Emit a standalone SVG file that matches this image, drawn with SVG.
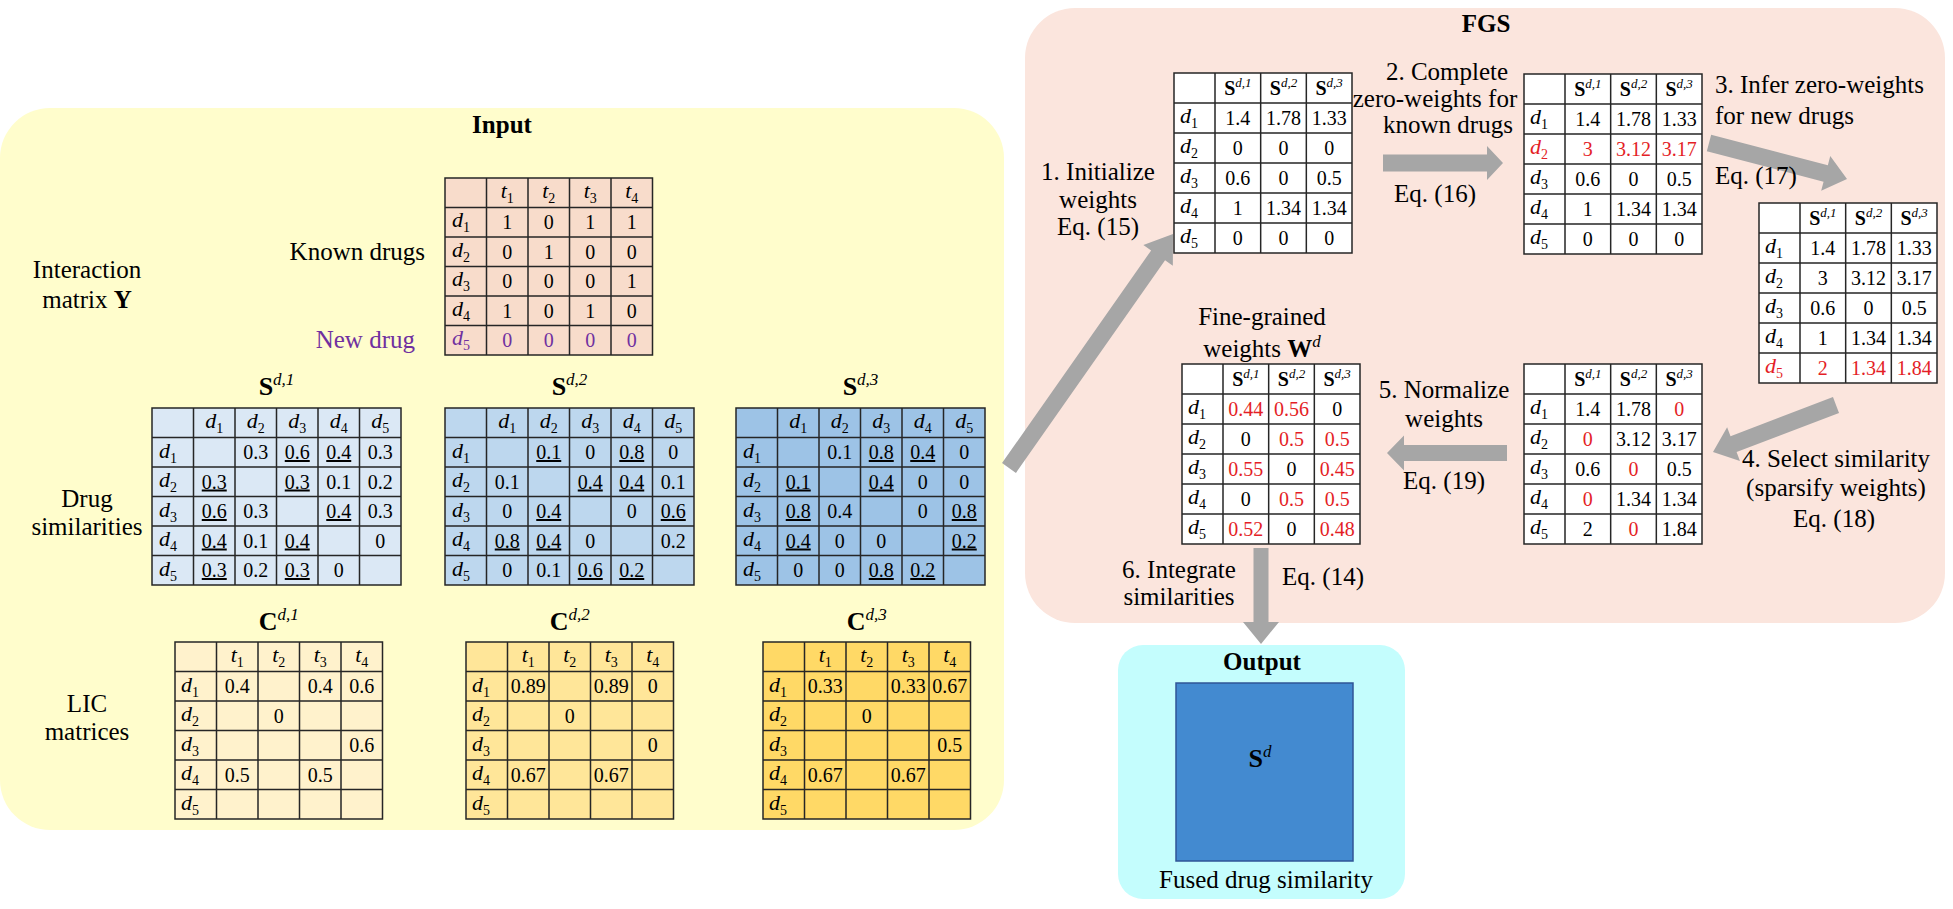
<svg xmlns="http://www.w3.org/2000/svg" width="1953" height="909" viewBox="0 0 1953 909">
<style>
text{font-family:"Liberation Serif","Times New Roman",serif;fill:#000}
.lbl{font-size:25px}
.ttl{font-size:25px;font-weight:bold;text-anchor:middle}
.c{font-size:20px;text-anchor:middle}
.u{text-decoration:underline}
.d{font-size:22px}
.d .i{font-style:italic}
.s{font-size:14px;font-style:normal}
.grid{fill:none;stroke:#262626;stroke-width:1.5}
.r{fill:#E41E26}
.p{fill:#7030A0}
.hS{font-size:20px;font-weight:bold;text-anchor:middle}
.sup{font-size:13px;font-style:italic;font-weight:normal}
.bigS{font-size:26px;font-weight:bold;text-anchor:middle}
.bsup{font-size:17px;font-style:italic;font-weight:normal}
.arr{fill:#A6A6A6}
.mid{text-anchor:middle}
.end{text-anchor:end}
</style>

<!-- panels -->
<g id="input-panel">
<rect x="0" y="108" width="1004" height="722" rx="50" fill="#FFFDCC"/>
<text class="ttl" x="502" y="133">Input</text>
<text class="lbl mid" x="87" y="278">Interaction</text>
<text class="lbl mid" x="87" y="308">matrix <tspan font-weight="bold">Y</tspan></text>
<text class="lbl end" x="425" y="260">Known drugs</text>
<text class="lbl end p" x="415" y="348">New drug</text>
<text class="lbl mid" x="87" y="507">Drug</text>
<text class="lbl mid" x="87" y="535">similarities</text>
<text class="lbl mid" x="87" y="712">LIC</text>
<text class="lbl mid" x="87" y="740">matrices</text>
</g>

<g id="fgs-panel">
<rect x="1025" y="8" width="920" height="615" rx="50" fill="#FBE5DD"/>
<text class="ttl" x="1486" y="32">FGS</text>
</g>

<!-- connectors -->
<g id="connectors">
<polygon class="arr" points="1015.96,472.88 1165.06,260.18 1172.84,265.63 1173,234 1143.36,244.97 1151.14,250.42 1002.04,463.12"/>
<polygon class="arr" points="1383,154.5 1487,154.5 1487,146 1503,163 1487,180 1487,171.5 1383,171.5"/>
<polygon class="arr" points="1706.85,151.23 1823.56,181.68 1821.17,190.87 1847,179 1830.25,156.03 1827.86,165.22 1711.15,134.77"/>
<polygon class="arr" points="1832.97,397.06 1730.52,436.21 1727.12,427.34 1713,452 1739.98,460.96 1736.58,452.09 1839.03,412.94"/>
<polygon class="arr" points="1507,445 1404,445 1404,435.5 1387,453 1404,470.5 1404,461 1507,461"/>
<polygon class="arr" points="1253.5,548 1253.5,622 1243,622 1261,644 1279,622 1268.5,622 1268.5,548"/>
</g>

<!-- step labels -->
<g id="step-labels">
<text class="lbl mid" x="1098" y="180">1. Initialize</text>
<text class="lbl mid" x="1098" y="208">weights</text>
<text class="lbl mid" x="1098" y="235">Eq. (15)</text>
<text class="lbl mid" x="1447" y="80">2. Complete</text>
<text class="lbl mid" x="1435" y="107">zero-weights for</text>
<text class="lbl mid" x="1448" y="133">known drugs</text>
<text class="lbl mid" x="1435" y="202">Eq. (16)</text>
<text class="lbl" x="1715" y="93">3. Infer zero-weights</text>
<text class="lbl" x="1715" y="124">for new drugs</text>
<text class="lbl" x="1715" y="184">Eq. (17)</text>
<text class="lbl mid" x="1836" y="467">4. Select similarity</text>
<text class="lbl mid" x="1836" y="496">(sparsify weights)</text>
<text class="lbl mid" x="1834" y="527">Eq. (18)</text>
<text class="lbl mid" x="1444" y="398">5. Normalize</text>
<text class="lbl mid" x="1444" y="427">weights</text>
<text class="lbl mid" x="1444" y="489">Eq. (19)</text>
<text class="lbl mid" x="1262" y="325">Fine-grained</text>
<text class="lbl mid" x="1262" y="357">weights <tspan font-weight="bold">W</tspan><tspan class="bsup" dy="-10">d</tspan></text>
<text class="lbl mid" x="1179" y="578">6. Integrate</text>
<text class="lbl mid" x="1179" y="605">similarities</text>
<text class="lbl mid" x="1323" y="585">Eq. (14)</text>
</g>

<!-- Interaction matrix Y -->
<g id="matrix-Y">
<rect x="445" y="178" width="207.5" height="177" fill="#F8DCCB"/>
<path class="grid" d="M445 178h207.5v177h-207.5z M486.5 178V355 M528 178V355 M569.5 178V355 M611 178V355 M445 207.5H652.5 M445 237H652.5 M445 266.5H652.5 M445 296H652.5 M445 325.5H652.5"/>
<text class="d mid" x="507.25" y="198"><tspan class="i">t</tspan><tspan class="s" dy="5">1</tspan></text>
<text class="d mid" x="548.75" y="198"><tspan class="i">t</tspan><tspan class="s" dy="5">2</tspan></text>
<text class="d mid" x="590.25" y="198"><tspan class="i">t</tspan><tspan class="s" dy="5">3</tspan></text>
<text class="d mid" x="631.75" y="198"><tspan class="i">t</tspan><tspan class="s" dy="5">4</tspan></text>
<text class="d" x="452" y="227"><tspan class="i">d</tspan><tspan class="s" dy="5">1</tspan></text>
<text class="d" x="452" y="256.5"><tspan class="i">d</tspan><tspan class="s" dy="5">2</tspan></text>
<text class="d" x="452" y="286"><tspan class="i">d</tspan><tspan class="s" dy="5">3</tspan></text>
<text class="d" x="452" y="315.5"><tspan class="i">d</tspan><tspan class="s" dy="5">4</tspan></text>
<text class="d p" x="452" y="345"><tspan class="i">d</tspan><tspan class="s" dy="5">5</tspan></text>
<text class="c" x="507.25" y="229">1</text><text class="c" x="548.75" y="229">0</text><text class="c" x="590.25" y="229">1</text><text class="c" x="631.75" y="229">1</text>
<text class="c" x="507.25" y="258.5">0</text><text class="c" x="548.75" y="258.5">1</text><text class="c" x="590.25" y="258.5">0</text><text class="c" x="631.75" y="258.5">0</text>
<text class="c" x="507.25" y="288">0</text><text class="c" x="548.75" y="288">0</text><text class="c" x="590.25" y="288">0</text><text class="c" x="631.75" y="288">1</text>
<text class="c" x="507.25" y="317.5">1</text><text class="c" x="548.75" y="317.5">0</text><text class="c" x="590.25" y="317.5">1</text><text class="c" x="631.75" y="317.5">0</text>
<text class="c p" x="507.25" y="347">0</text><text class="c p" x="548.75" y="347">0</text><text class="c p" x="590.25" y="347">0</text><text class="c p" x="631.75" y="347">0</text>
</g>

<!-- S^{d,1} -->
<g id="S-d1">
<text class="bigS" x="276.5" y="395">S<tspan class="bsup" dy="-10">d,1</tspan></text>
<rect x="152" y="408" width="249" height="177" fill="#DBE8F5"/>
<path class="grid" d="M152 408h249v177h-249z M193.5 408V585 M235 408V585 M276.5 408V585 M318 408V585 M359.5 408V585 M152 437.5H401 M152 467H401 M152 496.5H401 M152 526H401 M152 555.5H401"/>
<text class="d mid" x="214.25" y="428"><tspan class="i">d</tspan><tspan class="s" dy="5">1</tspan></text>
<text class="d mid" x="255.75" y="428"><tspan class="i">d</tspan><tspan class="s" dy="5">2</tspan></text>
<text class="d mid" x="297.25" y="428"><tspan class="i">d</tspan><tspan class="s" dy="5">3</tspan></text>
<text class="d mid" x="338.75" y="428"><tspan class="i">d</tspan><tspan class="s" dy="5">4</tspan></text>
<text class="d mid" x="380.25" y="428"><tspan class="i">d</tspan><tspan class="s" dy="5">5</tspan></text>
<text class="d" x="159" y="457.5"><tspan class="i">d</tspan><tspan class="s" dy="5">1</tspan></text>
<text class="d" x="159" y="487"><tspan class="i">d</tspan><tspan class="s" dy="5">2</tspan></text>
<text class="d" x="159" y="516.5"><tspan class="i">d</tspan><tspan class="s" dy="5">3</tspan></text>
<text class="d" x="159" y="546"><tspan class="i">d</tspan><tspan class="s" dy="5">4</tspan></text>
<text class="d" x="159" y="575.5"><tspan class="i">d</tspan><tspan class="s" dy="5">5</tspan></text>
<text class="c" x="255.75" y="459">0.3</text><text class="c u" x="297.25" y="459">0.6</text><text class="c u" x="338.75" y="459">0.4</text><text class="c" x="380.25" y="459">0.3</text>
<text class="c u" x="214.25" y="488.5">0.3</text><text class="c u" x="297.25" y="488.5">0.3</text><text class="c" x="338.75" y="488.5">0.1</text><text class="c" x="380.25" y="488.5">0.2</text>
<text class="c u" x="214.25" y="518">0.6</text><text class="c" x="255.75" y="518">0.3</text><text class="c u" x="338.75" y="518">0.4</text><text class="c" x="380.25" y="518">0.3</text>
<text class="c u" x="214.25" y="547.5">0.4</text><text class="c" x="255.75" y="547.5">0.1</text><text class="c u" x="297.25" y="547.5">0.4</text><text class="c" x="380.25" y="547.5">0</text>
<text class="c u" x="214.25" y="577">0.3</text><text class="c" x="255.75" y="577">0.2</text><text class="c u" x="297.25" y="577">0.3</text><text class="c" x="338.75" y="577">0</text>
</g>

<!-- S^{d,2} -->
<g id="S-d2">
<text class="bigS" x="569.5" y="395">S<tspan class="bsup" dy="-10">d,2</tspan></text>
<rect x="445" y="408" width="249" height="177" fill="#BDD7EE"/>
<path class="grid" d="M445 408h249v177h-249z M486.5 408V585 M528 408V585 M569.5 408V585 M611 408V585 M652.5 408V585 M445 437.5H694 M445 467H694 M445 496.5H694 M445 526H694 M445 555.5H694"/>
<text class="d mid" x="507.25" y="428"><tspan class="i">d</tspan><tspan class="s" dy="5">1</tspan></text>
<text class="d mid" x="548.75" y="428"><tspan class="i">d</tspan><tspan class="s" dy="5">2</tspan></text>
<text class="d mid" x="590.25" y="428"><tspan class="i">d</tspan><tspan class="s" dy="5">3</tspan></text>
<text class="d mid" x="631.75" y="428"><tspan class="i">d</tspan><tspan class="s" dy="5">4</tspan></text>
<text class="d mid" x="673.25" y="428"><tspan class="i">d</tspan><tspan class="s" dy="5">5</tspan></text>
<text class="d" x="452" y="457.5"><tspan class="i">d</tspan><tspan class="s" dy="5">1</tspan></text>
<text class="d" x="452" y="487"><tspan class="i">d</tspan><tspan class="s" dy="5">2</tspan></text>
<text class="d" x="452" y="516.5"><tspan class="i">d</tspan><tspan class="s" dy="5">3</tspan></text>
<text class="d" x="452" y="546"><tspan class="i">d</tspan><tspan class="s" dy="5">4</tspan></text>
<text class="d" x="452" y="575.5"><tspan class="i">d</tspan><tspan class="s" dy="5">5</tspan></text>
<text class="c u" x="548.75" y="459">0.1</text><text class="c" x="590.25" y="459">0</text><text class="c u" x="631.75" y="459">0.8</text><text class="c" x="673.25" y="459">0</text>
<text class="c" x="507.25" y="488.5">0.1</text><text class="c u" x="590.25" y="488.5">0.4</text><text class="c u" x="631.75" y="488.5">0.4</text><text class="c" x="673.25" y="488.5">0.1</text>
<text class="c" x="507.25" y="518">0</text><text class="c u" x="548.75" y="518">0.4</text><text class="c" x="631.75" y="518">0</text><text class="c u" x="673.25" y="518">0.6</text>
<text class="c u" x="507.25" y="547.5">0.8</text><text class="c u" x="548.75" y="547.5">0.4</text><text class="c" x="590.25" y="547.5">0</text><text class="c" x="673.25" y="547.5">0.2</text>
<text class="c" x="507.25" y="577">0</text><text class="c" x="548.75" y="577">0.1</text><text class="c u" x="590.25" y="577">0.6</text><text class="c u" x="631.75" y="577">0.2</text>
</g>

<!-- S^{d,3} -->
<g id="S-d3">
<text class="bigS" x="860.5" y="395">S<tspan class="bsup" dy="-10">d,3</tspan></text>
<rect x="736" y="408" width="249" height="177" fill="#9DC3E6"/>
<path class="grid" d="M736 408h249v177h-249z M777.5 408V585 M819 408V585 M860.5 408V585 M902 408V585 M943.5 408V585 M736 437.5H985 M736 467H985 M736 496.5H985 M736 526H985 M736 555.5H985"/>
<text class="d mid" x="798.25" y="428"><tspan class="i">d</tspan><tspan class="s" dy="5">1</tspan></text>
<text class="d mid" x="839.75" y="428"><tspan class="i">d</tspan><tspan class="s" dy="5">2</tspan></text>
<text class="d mid" x="881.25" y="428"><tspan class="i">d</tspan><tspan class="s" dy="5">3</tspan></text>
<text class="d mid" x="922.75" y="428"><tspan class="i">d</tspan><tspan class="s" dy="5">4</tspan></text>
<text class="d mid" x="964.25" y="428"><tspan class="i">d</tspan><tspan class="s" dy="5">5</tspan></text>
<text class="d" x="743" y="457.5"><tspan class="i">d</tspan><tspan class="s" dy="5">1</tspan></text>
<text class="d" x="743" y="487"><tspan class="i">d</tspan><tspan class="s" dy="5">2</tspan></text>
<text class="d" x="743" y="516.5"><tspan class="i">d</tspan><tspan class="s" dy="5">3</tspan></text>
<text class="d" x="743" y="546"><tspan class="i">d</tspan><tspan class="s" dy="5">4</tspan></text>
<text class="d" x="743" y="575.5"><tspan class="i">d</tspan><tspan class="s" dy="5">5</tspan></text>
<text class="c" x="839.75" y="459">0.1</text><text class="c u" x="881.25" y="459">0.8</text><text class="c u" x="922.75" y="459">0.4</text><text class="c" x="964.25" y="459">0</text>
<text class="c u" x="798.25" y="488.5">0.1</text><text class="c u" x="881.25" y="488.5">0.4</text><text class="c" x="922.75" y="488.5">0</text><text class="c" x="964.25" y="488.5">0</text>
<text class="c u" x="798.25" y="518">0.8</text><text class="c" x="839.75" y="518">0.4</text><text class="c" x="922.75" y="518">0</text><text class="c u" x="964.25" y="518">0.8</text>
<text class="c u" x="798.25" y="547.5">0.4</text><text class="c" x="839.75" y="547.5">0</text><text class="c" x="881.25" y="547.5">0</text><text class="c u" x="964.25" y="547.5">0.2</text>
<text class="c" x="798.25" y="577">0</text><text class="c" x="839.75" y="577">0</text><text class="c u" x="881.25" y="577">0.8</text><text class="c u" x="922.75" y="577">0.2</text>
</g>

<!-- C^{d,1} -->
<g id="C-d1">
<text class="bigS" x="278.75" y="630">C<tspan class="bsup" dy="-10">d,1</tspan></text>
<rect x="175" y="642" width="207.5" height="177" fill="#FFF2CC"/>
<path class="grid" d="M175 642h207.5v177h-207.5z M216.5 642V819 M258 642V819 M299.5 642V819 M341 642V819 M175 671.5H382.5 M175 701H382.5 M175 730.5H382.5 M175 760H382.5 M175 789.5H382.5"/>
<text class="d mid" x="237.25" y="662"><tspan class="i">t</tspan><tspan class="s" dy="5">1</tspan></text>
<text class="d mid" x="278.75" y="662"><tspan class="i">t</tspan><tspan class="s" dy="5">2</tspan></text>
<text class="d mid" x="320.25" y="662"><tspan class="i">t</tspan><tspan class="s" dy="5">3</tspan></text>
<text class="d mid" x="361.75" y="662"><tspan class="i">t</tspan><tspan class="s" dy="5">4</tspan></text>
<text class="d" x="181" y="691.5"><tspan class="i">d</tspan><tspan class="s" dy="5">1</tspan></text>
<text class="d" x="181" y="721"><tspan class="i">d</tspan><tspan class="s" dy="5">2</tspan></text>
<text class="d" x="181" y="750.5"><tspan class="i">d</tspan><tspan class="s" dy="5">3</tspan></text>
<text class="d" x="181" y="780"><tspan class="i">d</tspan><tspan class="s" dy="5">4</tspan></text>
<text class="d" x="181" y="809.5"><tspan class="i">d</tspan><tspan class="s" dy="5">5</tspan></text>
<text class="c" x="237.25" y="693">0.4</text><text class="c" x="320.25" y="693">0.4</text><text class="c" x="361.75" y="693">0.6</text>
<text class="c" x="278.75" y="722.5">0</text>
<text class="c" x="361.75" y="752">0.6</text>
<text class="c" x="237.25" y="781.5">0.5</text><text class="c" x="320.25" y="781.5">0.5</text>
</g>

<!-- C^{d,2} -->
<g id="C-d2">
<text class="bigS" x="569.75" y="630">C<tspan class="bsup" dy="-10">d,2</tspan></text>
<rect x="466" y="642" width="207.5" height="177" fill="#FFE699"/>
<path class="grid" d="M466 642h207.5v177h-207.5z M507.5 642V819 M549 642V819 M590.5 642V819 M632 642V819 M466 671.5H673.5 M466 701H673.5 M466 730.5H673.5 M466 760H673.5 M466 789.5H673.5"/>
<text class="d mid" x="528.25" y="662"><tspan class="i">t</tspan><tspan class="s" dy="5">1</tspan></text>
<text class="d mid" x="569.75" y="662"><tspan class="i">t</tspan><tspan class="s" dy="5">2</tspan></text>
<text class="d mid" x="611.25" y="662"><tspan class="i">t</tspan><tspan class="s" dy="5">3</tspan></text>
<text class="d mid" x="652.75" y="662"><tspan class="i">t</tspan><tspan class="s" dy="5">4</tspan></text>
<text class="d" x="472" y="691.5"><tspan class="i">d</tspan><tspan class="s" dy="5">1</tspan></text>
<text class="d" x="472" y="721"><tspan class="i">d</tspan><tspan class="s" dy="5">2</tspan></text>
<text class="d" x="472" y="750.5"><tspan class="i">d</tspan><tspan class="s" dy="5">3</tspan></text>
<text class="d" x="472" y="780"><tspan class="i">d</tspan><tspan class="s" dy="5">4</tspan></text>
<text class="d" x="472" y="809.5"><tspan class="i">d</tspan><tspan class="s" dy="5">5</tspan></text>
<text class="c" x="528.25" y="693">0.89</text><text class="c" x="611.25" y="693">0.89</text><text class="c" x="652.75" y="693">0</text>
<text class="c" x="569.75" y="722.5">0</text>
<text class="c" x="652.75" y="752">0</text>
<text class="c" x="528.25" y="781.5">0.67</text><text class="c" x="611.25" y="781.5">0.67</text>
</g>

<!-- C^{d,3} -->
<g id="C-d3">
<text class="bigS" x="866.75" y="630">C<tspan class="bsup" dy="-10">d,3</tspan></text>
<rect x="763" y="642" width="207.5" height="177" fill="#FFD966"/>
<path class="grid" d="M763 642h207.5v177h-207.5z M804.5 642V819 M846 642V819 M887.5 642V819 M929 642V819 M763 671.5H970.5 M763 701H970.5 M763 730.5H970.5 M763 760H970.5 M763 789.5H970.5"/>
<text class="d mid" x="825.25" y="662"><tspan class="i">t</tspan><tspan class="s" dy="5">1</tspan></text>
<text class="d mid" x="866.75" y="662"><tspan class="i">t</tspan><tspan class="s" dy="5">2</tspan></text>
<text class="d mid" x="908.25" y="662"><tspan class="i">t</tspan><tspan class="s" dy="5">3</tspan></text>
<text class="d mid" x="949.75" y="662"><tspan class="i">t</tspan><tspan class="s" dy="5">4</tspan></text>
<text class="d" x="769" y="691.5"><tspan class="i">d</tspan><tspan class="s" dy="5">1</tspan></text>
<text class="d" x="769" y="721"><tspan class="i">d</tspan><tspan class="s" dy="5">2</tspan></text>
<text class="d" x="769" y="750.5"><tspan class="i">d</tspan><tspan class="s" dy="5">3</tspan></text>
<text class="d" x="769" y="780"><tspan class="i">d</tspan><tspan class="s" dy="5">4</tspan></text>
<text class="d" x="769" y="809.5"><tspan class="i">d</tspan><tspan class="s" dy="5">5</tspan></text>
<text class="c" x="825.25" y="693">0.33</text><text class="c" x="908.25" y="693">0.33</text><text class="c" x="949.75" y="693">0.67</text>
<text class="c" x="866.75" y="722.5">0</text>
<text class="c" x="949.75" y="752">0.5</text>
<text class="c" x="825.25" y="781.5">0.67</text><text class="c" x="908.25" y="781.5">0.67</text>
</g>

<!-- FGS table 1 -->
<g id="fgs-t1">
<rect x="1174" y="73" width="178" height="180" fill="#FFFFFF"/>
<path class="grid" d="M1174 73h178v180h-178z M1215 73V253 M1260.67 73V253 M1306.33 73V253 M1174 103H1352 M1174 133H1352 M1174 163H1352 M1174 193H1352 M1174 223H1352"/>
<text class="hS" x="1237.83" y="95">S<tspan class="sup" dy="-8">d,1</tspan></text>
<text class="hS" x="1283.5" y="95">S<tspan class="sup" dy="-8">d,2</tspan></text>
<text class="hS" x="1329.17" y="95">S<tspan class="sup" dy="-8">d,3</tspan></text>
<text class="d" x="1180" y="123"><tspan class="i">d</tspan><tspan class="s" dy="5">1</tspan></text>
<text class="d" x="1180" y="153"><tspan class="i">d</tspan><tspan class="s" dy="5">2</tspan></text>
<text class="d" x="1180" y="183"><tspan class="i">d</tspan><tspan class="s" dy="5">3</tspan></text>
<text class="d" x="1180" y="213"><tspan class="i">d</tspan><tspan class="s" dy="5">4</tspan></text>
<text class="d" x="1180" y="243"><tspan class="i">d</tspan><tspan class="s" dy="5">5</tspan></text>
<text class="c" x="1237.83" y="125">1.4</text><text class="c" x="1283.5" y="125">1.78</text><text class="c" x="1329.17" y="125">1.33</text>
<text class="c" x="1237.83" y="155">0</text><text class="c" x="1283.5" y="155">0</text><text class="c" x="1329.17" y="155">0</text>
<text class="c" x="1237.83" y="185">0.6</text><text class="c" x="1283.5" y="185">0</text><text class="c" x="1329.17" y="185">0.5</text>
<text class="c" x="1237.83" y="215">1</text><text class="c" x="1283.5" y="215">1.34</text><text class="c" x="1329.17" y="215">1.34</text>
<text class="c" x="1237.83" y="245">0</text><text class="c" x="1283.5" y="245">0</text><text class="c" x="1329.17" y="245">0</text>
</g>

<!-- FGS table 2 -->
<g id="fgs-t2">
<rect x="1524" y="74" width="178" height="180" fill="#FFFFFF"/>
<path class="grid" d="M1524 74h178v180h-178z M1565 74V254 M1610.67 74V254 M1656.33 74V254 M1524 104H1702 M1524 134H1702 M1524 164H1702 M1524 194H1702 M1524 224H1702"/>
<text class="hS" x="1587.83" y="96">S<tspan class="sup" dy="-8">d,1</tspan></text>
<text class="hS" x="1633.5" y="96">S<tspan class="sup" dy="-8">d,2</tspan></text>
<text class="hS" x="1679.17" y="96">S<tspan class="sup" dy="-8">d,3</tspan></text>
<text class="d" x="1530" y="124"><tspan class="i">d</tspan><tspan class="s" dy="5">1</tspan></text>
<text class="d r" x="1530" y="154"><tspan class="i">d</tspan><tspan class="s" dy="5">2</tspan></text>
<text class="d" x="1530" y="184"><tspan class="i">d</tspan><tspan class="s" dy="5">3</tspan></text>
<text class="d" x="1530" y="214"><tspan class="i">d</tspan><tspan class="s" dy="5">4</tspan></text>
<text class="d" x="1530" y="244"><tspan class="i">d</tspan><tspan class="s" dy="5">5</tspan></text>
<text class="c" x="1587.83" y="126">1.4</text><text class="c" x="1633.5" y="126">1.78</text><text class="c" x="1679.17" y="126">1.33</text>
<text class="c r" x="1587.83" y="156">3</text><text class="c r" x="1633.5" y="156">3.12</text><text class="c r" x="1679.17" y="156">3.17</text>
<text class="c" x="1587.83" y="186">0.6</text><text class="c" x="1633.5" y="186">0</text><text class="c" x="1679.17" y="186">0.5</text>
<text class="c" x="1587.83" y="216">1</text><text class="c" x="1633.5" y="216">1.34</text><text class="c" x="1679.17" y="216">1.34</text>
<text class="c" x="1587.83" y="246">0</text><text class="c" x="1633.5" y="246">0</text><text class="c" x="1679.17" y="246">0</text>
</g>

<!-- FGS table 3 -->
<g id="fgs-t3">
<rect x="1759" y="203" width="178" height="180" fill="#FFFFFF"/>
<path class="grid" d="M1759 203h178v180h-178z M1800 203V383 M1845.67 203V383 M1891.33 203V383 M1759 233H1937 M1759 263H1937 M1759 293H1937 M1759 323H1937 M1759 353H1937"/>
<text class="hS" x="1822.83" y="225">S<tspan class="sup" dy="-8">d,1</tspan></text>
<text class="hS" x="1868.5" y="225">S<tspan class="sup" dy="-8">d,2</tspan></text>
<text class="hS" x="1914.17" y="225">S<tspan class="sup" dy="-8">d,3</tspan></text>
<text class="d" x="1765" y="253"><tspan class="i">d</tspan><tspan class="s" dy="5">1</tspan></text>
<text class="d" x="1765" y="283"><tspan class="i">d</tspan><tspan class="s" dy="5">2</tspan></text>
<text class="d" x="1765" y="313"><tspan class="i">d</tspan><tspan class="s" dy="5">3</tspan></text>
<text class="d" x="1765" y="343"><tspan class="i">d</tspan><tspan class="s" dy="5">4</tspan></text>
<text class="d r" x="1765" y="373"><tspan class="i">d</tspan><tspan class="s" dy="5">5</tspan></text>
<text class="c" x="1822.83" y="255">1.4</text><text class="c" x="1868.5" y="255">1.78</text><text class="c" x="1914.17" y="255">1.33</text>
<text class="c" x="1822.83" y="285">3</text><text class="c" x="1868.5" y="285">3.12</text><text class="c" x="1914.17" y="285">3.17</text>
<text class="c" x="1822.83" y="315">0.6</text><text class="c" x="1868.5" y="315">0</text><text class="c" x="1914.17" y="315">0.5</text>
<text class="c" x="1822.83" y="345">1</text><text class="c" x="1868.5" y="345">1.34</text><text class="c" x="1914.17" y="345">1.34</text>
<text class="c r" x="1822.83" y="375">2</text><text class="c r" x="1868.5" y="375">1.34</text><text class="c r" x="1914.17" y="375">1.84</text>
</g>

<!-- FGS table 4 -->
<g id="fgs-t4">
<rect x="1524" y="364" width="178" height="180" fill="#FFFFFF"/>
<path class="grid" d="M1524 364h178v180h-178z M1565 364V544 M1610.67 364V544 M1656.33 364V544 M1524 394H1702 M1524 424H1702 M1524 454H1702 M1524 484H1702 M1524 514H1702"/>
<text class="hS" x="1587.83" y="386">S<tspan class="sup" dy="-8">d,1</tspan></text>
<text class="hS" x="1633.5" y="386">S<tspan class="sup" dy="-8">d,2</tspan></text>
<text class="hS" x="1679.17" y="386">S<tspan class="sup" dy="-8">d,3</tspan></text>
<text class="d" x="1530" y="414"><tspan class="i">d</tspan><tspan class="s" dy="5">1</tspan></text>
<text class="d" x="1530" y="444"><tspan class="i">d</tspan><tspan class="s" dy="5">2</tspan></text>
<text class="d" x="1530" y="474"><tspan class="i">d</tspan><tspan class="s" dy="5">3</tspan></text>
<text class="d" x="1530" y="504"><tspan class="i">d</tspan><tspan class="s" dy="5">4</tspan></text>
<text class="d" x="1530" y="534"><tspan class="i">d</tspan><tspan class="s" dy="5">5</tspan></text>
<text class="c" x="1587.83" y="416">1.4</text><text class="c" x="1633.5" y="416">1.78</text><text class="c r" x="1679.17" y="416">0</text>
<text class="c r" x="1587.83" y="446">0</text><text class="c" x="1633.5" y="446">3.12</text><text class="c" x="1679.17" y="446">3.17</text>
<text class="c" x="1587.83" y="476">0.6</text><text class="c r" x="1633.5" y="476">0</text><text class="c" x="1679.17" y="476">0.5</text>
<text class="c r" x="1587.83" y="506">0</text><text class="c" x="1633.5" y="506">1.34</text><text class="c" x="1679.17" y="506">1.34</text>
<text class="c" x="1587.83" y="536">2</text><text class="c r" x="1633.5" y="536">0</text><text class="c" x="1679.17" y="536">1.84</text>
</g>

<!-- FGS table 5 : W^d -->
<g id="fgs-t5">
<rect x="1182" y="364" width="178" height="180" fill="#FFFFFF"/>
<path class="grid" d="M1182 364h178v180h-178z M1223 364V544 M1268.67 364V544 M1314.33 364V544 M1182 394H1360 M1182 424H1360 M1182 454H1360 M1182 484H1360 M1182 514H1360"/>
<text class="hS" x="1245.83" y="386">S<tspan class="sup" dy="-8">d,1</tspan></text>
<text class="hS" x="1291.5" y="386">S<tspan class="sup" dy="-8">d,2</tspan></text>
<text class="hS" x="1337.17" y="386">S<tspan class="sup" dy="-8">d,3</tspan></text>
<text class="d" x="1188" y="414"><tspan class="i">d</tspan><tspan class="s" dy="5">1</tspan></text>
<text class="d" x="1188" y="444"><tspan class="i">d</tspan><tspan class="s" dy="5">2</tspan></text>
<text class="d" x="1188" y="474"><tspan class="i">d</tspan><tspan class="s" dy="5">3</tspan></text>
<text class="d" x="1188" y="504"><tspan class="i">d</tspan><tspan class="s" dy="5">4</tspan></text>
<text class="d" x="1188" y="534"><tspan class="i">d</tspan><tspan class="s" dy="5">5</tspan></text>
<text class="c r" x="1245.83" y="416">0.44</text><text class="c r" x="1291.5" y="416">0.56</text><text class="c" x="1337.17" y="416">0</text>
<text class="c" x="1245.83" y="446">0</text><text class="c r" x="1291.5" y="446">0.5</text><text class="c r" x="1337.17" y="446">0.5</text>
<text class="c r" x="1245.83" y="476">0.55</text><text class="c" x="1291.5" y="476">0</text><text class="c r" x="1337.17" y="476">0.45</text>
<text class="c" x="1245.83" y="506">0</text><text class="c r" x="1291.5" y="506">0.5</text><text class="c r" x="1337.17" y="506">0.5</text>
<text class="c r" x="1245.83" y="536">0.52</text><text class="c" x="1291.5" y="536">0</text><text class="c r" x="1337.17" y="536">0.48</text>
</g>

<!-- Output -->
<g id="output">
<rect x="1118" y="645" width="287" height="254" rx="25" fill="#C4FDFD"/>
<text class="ttl" x="1262" y="670">Output</text>
<rect x="1176" y="683" width="177" height="178" fill="#438AD0" stroke="#2F5597" stroke-width="1.5"/>
<text class="bigS" x="1260" y="767">S<tspan class="bsup" dy="-10">d</tspan></text>
<text class="lbl mid" x="1266" y="888">Fused drug similarity</text>
</g>
</svg>
